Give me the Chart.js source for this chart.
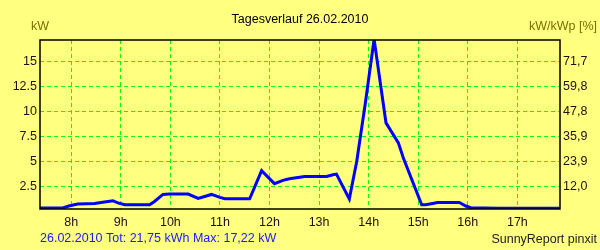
<!DOCTYPE html>
<html>
<head>
<meta charset="utf-8">
<script src="https://cdn.jsdelivr.net/npm/chart.js@4/dist/chart.umd.min.js"></script>
<style>
  html, body { margin: 0; padding: 0; background: #ffff80; }
  #wrap { width: 600px; height: 250px; position: relative; }
</style>
</head>
<body>
<div id="wrap"><canvas id="c" width="600" height="250"></canvas></div>
<script>
// time of day (hours) and power (kW)
var hours = [7.37, 7.83, 7.95, 8.13, 8.47, 8.67, 8.84, 8.94, 9.08, 9.58, 9.68, 9.85, 9.98,
             10.36, 10.56, 10.83, 11.0, 11.1, 11.6, 11.84, 12.1, 12.27, 12.4, 12.71, 13.15,
             13.28, 13.35, 13.61, 13.76, 13.93, 14.11, 14.35, 14.6, 14.7, 15.04, 15.07,
             15.15, 15.29, 15.39, 15.83, 15.96, 16.06, 16.62, 17.86];
var kw    = [0.3, 0.3, 0.5, 0.7, 0.75, 0.9, 1.03, 0.82, 0.62, 0.62, 0.95, 1.66, 1.7,
             1.7, 1.26, 1.66, 1.36, 1.23, 1.23, 4.04, 2.74, 3.07, 3.24, 3.47, 3.47,
             3.64, 3.7, 1.2, 4.98, 10.7, 17.22, 8.84, 6.83, 5.32, 1.0, 0.62,
             0.62, 0.75, 0.85, 0.85, 0.5, 0.33, 0.28, 0.28];

var hourTicks = [8, 9, 10, 11, 12, 13, 14, 15, 16, 17];
var kwTicks   = [2.5, 5, 7.5, 10, 12.5, 15];
var pctLabels = ['12,0', '23,9', '35,9', '47,8', '59,8', '71,7'];

var FONT = { family: "'Liberation Sans', Arial, sans-serif", size: 12.5 };

var points = hours.map(function (h, i) { return { x: h, y: kw[i] }; });

// frame + free text around the plot
var decor = {
  id: 'decor',
  afterDraw: function (chart) {
    var ctx = chart.ctx, a = chart.chartArea;
    ctx.save();
    ctx.strokeStyle = '#000';
    ctx.lineWidth = 1.5;
    ctx.strokeRect(a.left, a.top, a.right - a.left, a.bottom - a.top);
    ctx.font = FONT.size + 'px ' + FONT.family;
    ctx.textBaseline = 'middle';
    ctx.fillStyle = '#000';
    ctx.textAlign = 'center';
    ctx.fillText('Tagesverlauf 26.02.2010', 300, 20);
    ctx.fillStyle = '#7a7000';
    ctx.textAlign = 'left';
    ctx.fillText('kW', 31, 27);
    ctx.textAlign = 'right';
    ctx.fillText('kW/kWp [%]', 597, 27);
    ctx.fillStyle = '#1a1aff';
    ctx.textAlign = 'left';
    ctx.fillText('26.02.2010 Tot: 21,75 kWh Max: 17,22 kW', 40, 239);
    ctx.fillStyle = '#222';
    ctx.textAlign = 'right';
    ctx.fillText('SunnyReport pinxit', 597, 240);
    ctx.restore();
  }
};

var dashGrid = { color: '#00ff00', lineWidth: 1, drawTicks: false };

new Chart(document.getElementById('c'), {
  type: 'line',
  data: {
    datasets: [{
      data: points, borderColor: '#0000ff', borderWidth: 3, pointRadius: 0,
      fill: false, tension: 0
    }]
  },
  options: {
    responsive: false, animation: false,
    layout: { padding: { top: 40, bottom: 14, left: 0, right: 0 } },
    plugins: { legend: { display: false }, tooltip: { enabled: false } },
    scales: {
      x: {
        type: 'linear', min: 7.37, max: 17.86,
        afterBuildTicks: function (s) { s.ticks = hourTicks.map(function (v) { return { value: v }; }); },
        ticks: { color: '#201010', font: FONT, padding: 6, callback: function (v) { return v + 'h'; } },
        grid: dashGrid, border: { display: false, dash: [4, 3] }
      },
      y: {
        position: 'left', min: 0.2, max: 17.15,
        afterBuildTicks: function (s) { s.ticks = kwTicks.map(function (v) { return { value: v }; }); },
        afterFit: function (s) { s.width = 40; },
        ticks: { color: '#201010', font: FONT, padding: 3 },
        grid: dashGrid, border: { display: false, dash: [4, 3] }
      },
      y2: {
        position: 'right', min: 0.2, max: 17.15,
        afterBuildTicks: function (s) { s.ticks = kwTicks.map(function (v) { return { value: v }; }); },
        afterFit: function (s) { s.width = 40; },
        ticks: { color: '#201010', font: FONT, padding: 3,
                 callback: function (v, i) { return pctLabels[i]; } },
        grid: { display: false, drawTicks: false }, border: { display: false }
      }
    }
  },
  plugins: [decor]
});
</script>
</body>
</html>
